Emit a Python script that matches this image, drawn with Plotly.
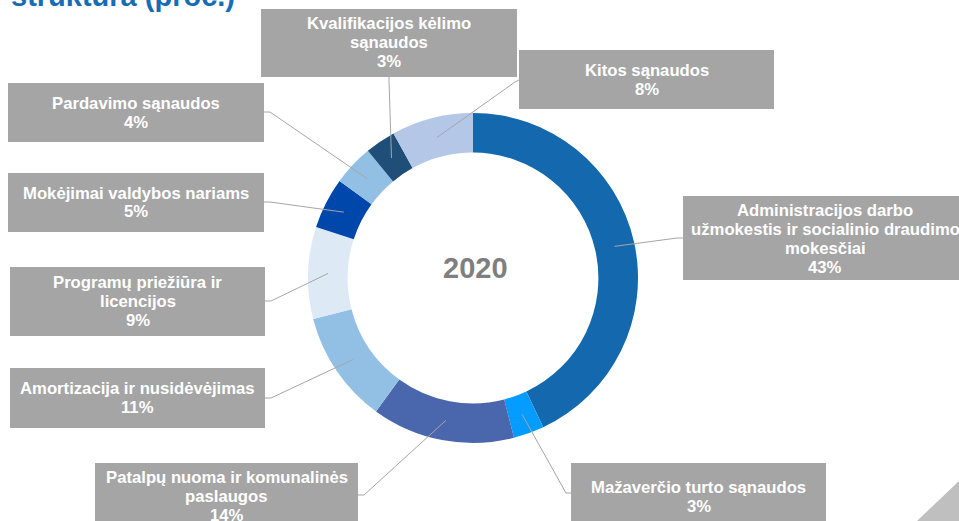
import math
import plotly.graph_objects as go

W, H = 959, 521

# ---- data ----
categories = [
    "Administracijos darbo<br>užmokestis ir socialinio draudimo<br>mokesčiai",
    "Mažaverčio turto sąnaudos",
    "Patalpų nuoma ir komunalinės<br>paslaugos",
    "Amortizacija ir nusidėvėjimas",
    "Programų priežiūra ir<br>licencijos",
    "Mokėjimai valdybos nariams",
    "Pardavimo sąnaudos",
    "Kvalifikacijos kėlimo<br>sąnaudos",
    "Kitos sąnaudos",
]
values = [43, 3, 14, 11, 9, 5, 4, 3, 8]
pct_labels = ["43%", "3%", "14%", "11%", "9%", "5%", "4%", "3%", "8%"]
year_label = "2020"
title_text = "struktūra (proc.)"

colors = ["#1368AE", "#049DFF", "#4A66AC", "#92C0E4", "#DDEAF6",
          "#0047AB", "#92C0E4", "#1F4E79", "#B4C7E7"]

# ---- layout constants (pixels) ----
CX, CY, R_OUT, HOLE = 473, 278, 165, 0.76
R_LEAD = 145
LINE_H = 19
# boxes: (x0, y0, x1, y1), anchor point on box, elbow point, text centre (x, y)
boxes = [
    ((683, 196, 970, 280), (683, 238), (677, 238), (825, 239)),
    ((571, 463, 826, 524), (571, 493), (566, 493), (698.5, 496.5)),
    ((95, 463, 358, 530), (358, 495), (364, 495), (226.5, 496)),
    ((10, 368, 265, 428), (265, 398), (271, 398), (137.5, 398)),
    ((10, 267, 265, 336), (265, 301), (271, 301), (137.5, 301.5)),
    ((8, 173, 264, 232), (264, 202), (270, 202), (136, 202.5)),
    ((8, 83, 264, 142), (264, 112), (270, 112), (136, 113)),
    ((261, 9, 517, 77), (389, 77), (389, 80), (389, 43)),
    ((519, 50, 774, 109), (519, 80), (515, 82), (646.5, 80)),
]

def px(x):
    return x / W

def py(y):
    return 1 - y / H

fig = go.Figure()
fig.add_trace(go.Pie(
    labels=[c.replace("<br>", " ") for c in categories],
    values=values,
    hole=HOLE,
    sort=False,
    direction="clockwise",
    rotation=0,
    marker=dict(colors=colors, line=dict(width=0)),
    textinfo="none",
    hoverinfo="label+percent",
    showlegend=False,
    domain=dict(x=[px(CX - R_OUT), px(CX + R_OUT)],
                y=[py(CY + R_OUT), py(CY - R_OUT)]),
))

shapes = []
annotations = []
total = sum(values)
cum = 0
for cat, val, pct, (box, anchor, elbow, tc) in zip(categories, values, pct_labels, boxes):
    mid = (cum + val / 2) / total * 2 * math.pi
    cum += val
    sx = CX + R_LEAD * math.sin(mid)
    sy = CY - R_LEAD * math.cos(mid)
    x0, y0, x1, y1 = box
    shapes.append(dict(type="rect", xref="paper", yref="paper",
                       x0=px(x0), x1=px(x1), y0=py(y1), y1=py(y0),
                       fillcolor="#A5A5A5", line=dict(width=0), layer="above"))
    path = "M {} {} L {} {} L {} {}".format(px(sx), py(sy), px(elbow[0]), py(elbow[1]),
                                           px(anchor[0]), py(anchor[1]))
    shapes.append(dict(type="path", xref="paper", yref="paper", path=path,
                       line=dict(color="#A6A6A6", width=1), layer="above"))
    lines = cat.split("<br>") + [pct]
    n = len(lines)
    for i, ln in enumerate(lines):
        yy = tc[1] + (i - (n - 1) / 2) * LINE_H
        annotations.append(dict(
            x=px(tc[0]), y=py(yy),
            xref="paper", yref="paper", showarrow=False,
            text=ln, xanchor="center", yanchor="middle",
            font=dict(family="Liberation Sans, Arial", size=16.7, color="white", weight="bold"),
        ))

annotations.append(dict(x=px(CX + 2), y=py(268), xref="paper", yref="paper",
                        showarrow=False, text=year_label,
                        font=dict(family="Liberation Sans, Arial", size=29,
                                  color="#7F7F7F", weight="bold")))
annotations.append(dict(x=px(9), y=py(-4), xref="paper", yref="paper",
                        xanchor="left", yanchor="middle", showarrow=False,
                        text=title_text,
                        font=dict(family="Liberation Sans, Arial", size=29,
                                  color="#166DB6", weight="bold")))

shapes.append(dict(type="path", xref="paper", yref="paper",
                   path="M {} {} L {} {} L {} {} Z".format(px(917), py(521), px(959), py(481), px(959), py(521)),
                   fillcolor="#BFBFBF", line=dict(width=0)))

fig.update_layout(
    width=W, height=H,
    margin=dict(l=0, r=0, t=0, b=0),
    paper_bgcolor="white", plot_bgcolor="white",
    shapes=shapes, annotations=annotations,
)

fig.write_html("out.html", config={"displayModeBar": False},
               post_script="document.body.style.margin='0';document.body.style.overflow='hidden';")
